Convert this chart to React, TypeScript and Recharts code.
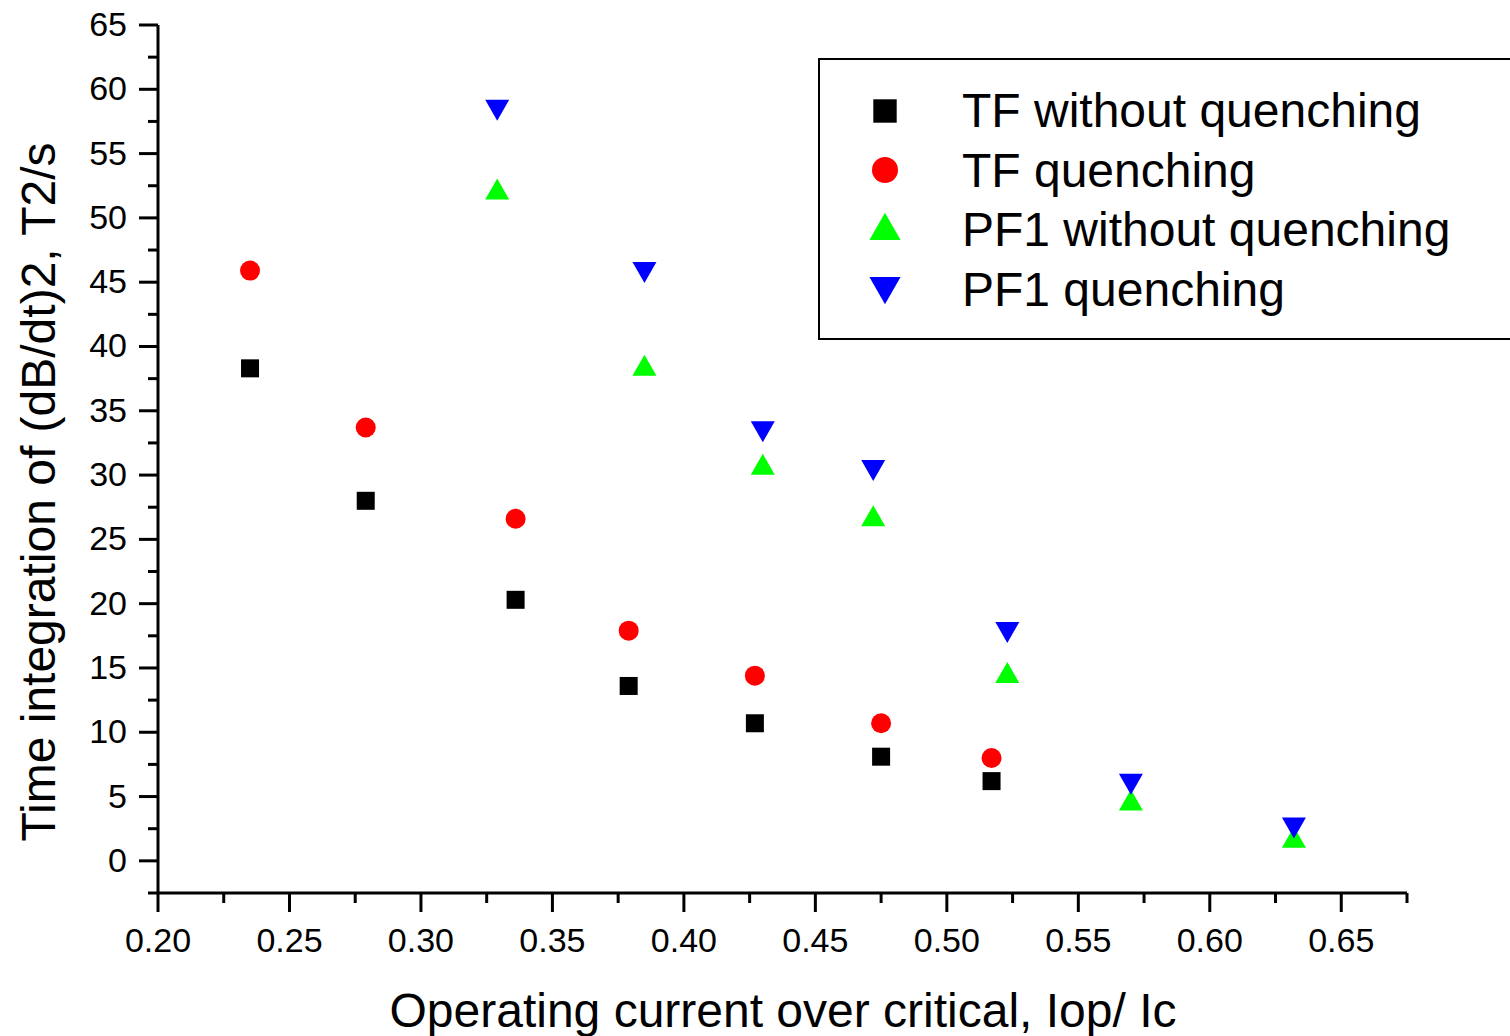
import { ScatterChart, Scatter, XAxis, YAxis, Legend } from 'recharts';

const FONT = '"Liberation Sans", Arial, Helvetica, sans-serif';

// Iop/Ic for the TF coil runs and the PF1 coil runs
const tfRatio = [0.235, 0.279, 0.336, 0.379, 0.427, 0.475, 0.517];
const pf1Ratio = [0.329, 0.385, 0.43, 0.472, 0.523, 0.57, 0.632];

// time integration of (dB/dt)^2, T2/s
const tfWithout = [38.3, 28.0, 20.3, 13.6, 10.7, 8.1, 6.2];
const tfQuench = [45.9, 33.7, 26.6, 17.9, 14.4, 10.7, 8.0];
const pf1Without = [52.2, 38.5, 30.8, 26.8, 14.6, 4.7, 1.8];
const pf1Quench = [58.4, 45.8, 33.4, 30.4, 17.8, 6.0, 2.6];

const seriesNames = ['TF without quenching', 'TF quenching', 'PF1 without quenching', 'PF1 quenching'];

const xTicks = [0.2, 0.225, 0.25, 0.275, 0.3, 0.325, 0.35, 0.375, 0.4, 0.425, 0.45, 0.475, 0.5, 0.525, 0.55, 0.575, 0.6, 0.625, 0.65, 0.675];
const xMajor = [0.2, 0.25, 0.3, 0.35, 0.4, 0.45, 0.5, 0.55, 0.6, 0.65];
const yTicks = [-2.5, 0, 2.5, 5, 7.5, 10, 12.5, 15, 17.5, 20, 22.5, 25, 27.5, 30, 32.5, 35, 37.5, 40, 42.5, 45, 47.5, 50, 52.5, 55, 57.5, 60, 62.5, 65];
const yMajor = [0, 5, 10, 15, 20, 25, 30, 35, 40, 45, 50, 55, 60, 65];

const toPoints = (xs: number[], ys: number[]) => xs.map((x, i) => ({ x, y: ys[i] }));

// s scales the symbol (legend symbols are drawn larger than the data ones)
const Square = ({ cx, cy, s = 1 }: any) => (
  <rect x={cx - 9 * s} y={cy - 9 * s} width={18 * s} height={18 * s} fill="#000" />
);
const Dot = ({ cx, cy, s = 1 }: any) => <circle cx={cx} cy={cy} r={10 * s} fill="#ff0000" />;
const TriUp = ({ cx, cy, s = 1 }: any) => (
  <polygon
    points={`${cx - 12 * s},${cy + 10 * s} ${cx + 12 * s},${cy + 10 * s} ${cx},${cy - 11 * s}`}
    fill="#00ff00"
  />
);
const TriDown = ({ cx, cy, s = 1 }: any) => (
  <polygon
    points={`${cx - 12 * s},${cy - 10 * s} ${cx + 12 * s},${cy - 10 * s} ${cx},${cy + 11 * s}`}
    fill="#0000ff"
  />
);

const markers = [Square, Dot, TriUp, TriDown];

const XTick = ({ x, y, payload }: any) => {
  const major = xMajor.some((v) => Math.abs(v - payload.value) < 1e-9);
  return (
    <g>
      <line x1={x} y1={y} x2={x} y2={y + (major ? 19 : 10)} stroke="#000" strokeWidth={3} />
      {major && (
        <text x={x} y={y + 59} textAnchor="middle" fontSize={34} fontFamily={FONT} fill="#000">
          {payload.value.toFixed(2)}
        </text>
      )}
    </g>
  );
};

const YTick = ({ x, y, payload }: any) => {
  const major = yMajor.some((v) => Math.abs(v - payload.value) < 1e-9);
  return (
    <g>
      <line x1={x} y1={y} x2={x - (major ? 19 : 10)} y2={y} stroke="#000" strokeWidth={3} />
      {major && (
        <text x={x - 31} y={y + 11} textAnchor="end" fontSize={34} fontFamily={FONT} fill="#000">
          {payload.value}
        </text>
      )}
    </g>
  );
};

const legendRows = [111, 170, 227, 290];

const LegendBox = () => (
  <div style={{ width: 700, height: 282, border: '2px solid #000', boxSizing: 'border-box', background: '#fff' }}>
    <svg width={700} height={282} style={{ display: 'block', marginLeft: -2, marginTop: -2 }}>
      {seriesNames.map((name, i) => {
        const Marker = markers[i];
        const cy = legendRows[i] - 58;
        const textY = 69 + 59.5 * i;
        return (
          <g key={name}>
            <Marker cx={67} cy={cy} s={1.3} />
            <text x={144} y={textY} fontSize={48} fontFamily={FONT} fill="#000">
              {name}
            </text>
          </g>
        );
      })}
    </svg>
  </div>
);

export default function App() {
  return (
    <div style={{ position: 'absolute', left: 0, top: 0, width: 1510, height: 1036, overflow: 'hidden', background: '#fff' }}>
      <ScatterChart width={1510} height={1036} margin={{ top: 25, right: 103, bottom: 0, left: 0 }}>
        <XAxis
          type="number"
          dataKey="x"
          domain={[0.2, 0.675]}
          ticks={xTicks}
          interval={0}
          height={143}
          tickSize={0}
          tickMargin={0}
          tickLine={false}
          tick={<XTick />}
          axisLine={{ stroke: '#000', strokeWidth: 3 }}
          allowDataOverflow
          label={{
            content: () => (
              <text x={783} y={1027} textAnchor="middle" fontSize={48} fontFamily={FONT} fill="#000">
                Operating current over critical, Iop/ Ic
              </text>
            ),
          }}
        />
        <YAxis
          type="number"
          dataKey="y"
          domain={[-2.5, 65]}
          ticks={yTicks}
          interval={0}
          width={158}
          tickSize={0}
          tickMargin={0}
          tickLine={false}
          tick={<YTick />}
          axisLine={{ stroke: '#000', strokeWidth: 3 }}
          allowDataOverflow
          label={{
            content: () => (
              <text
                x={55}
                y={492}
                transform="rotate(-90 55 492)"
                textAnchor="middle"
                fontSize={48}
                fontFamily={FONT}
                fill="#000"
              >
                Time integration of (dB/dt)2, T2/s
              </text>
            ),
          }}
        />
        <Legend
          layout="vertical"
          align="center"
          verticalAlign="middle"
          content={<LegendBox />}
          wrapperStyle={{ left: 818, top: 58, width: 700, height: 282 }}
        />
        <Scatter name={seriesNames[0]} data={toPoints(tfRatio, tfWithout)} shape={<Square />} isAnimationActive={false} />
        <Scatter name={seriesNames[1]} data={toPoints(tfRatio, tfQuench)} shape={<Dot />} isAnimationActive={false} />
        <Scatter name={seriesNames[2]} data={toPoints(pf1Ratio, pf1Without)} shape={<TriUp />} isAnimationActive={false} />
        <Scatter name={seriesNames[3]} data={toPoints(pf1Ratio, pf1Quench)} shape={<TriDown />} isAnimationActive={false} />
      </ScatterChart>
    </div>
  );
}
